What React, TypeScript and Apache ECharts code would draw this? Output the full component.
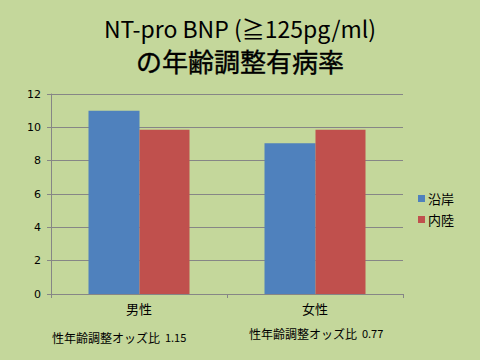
import React, { useEffect, useRef } from "react";
import * as echarts from "echarts";

const categories = ["男性", "女性"];
const coastal = [11.0, 9.05];
const inland = [9.85, 9.85];
const seriesNames = ["沿岸", "内陸"];
const titleLines = ["NT-pro BNP (≧125pg/ml)", "の年齢調整有病率"];
const oddsLabels = ["性年齢調整オッズ比", "性年齢調整オッズ比"];
const oddsValues = ["1.15", "0.77"];

export default function App() {
  const ref = useRef<HTMLDivElement>(null);
  useEffect(() => {
    const chart = echarts.init(ref.current!, null, { renderer: "svg" });
    const font = "'Noto Sans CJK JP', sans-serif";
    chart.setOption({
      animation: false,
      backgroundColor: "#C4D79B",
      legend: {
        orient: "vertical",
        left: 413,
        top: 187,
        itemWidth: 7,
        itemHeight: 7,
        itemGap: 8,
        icon: "rect",
        textStyle: { fontFamily: font, fontSize: 13, color: "#000", padding: [0, 0, 0, -2] },
        data: seriesNames,
      },
      grid: { left: 51, right: 77, top: 94, bottom: 66, containLabel: false },
      xAxis: {
        type: "category",
        data: categories,
        axisLine: { lineStyle: { color: "#868686" } },
        axisTick: { show: true, length: 4, lineStyle: { color: "#868686" } },
        axisLabel: { fontFamily: font, fontSize: 13, color: "#000", margin: 8 },
      },
      yAxis: {
        type: "value",
        min: 0,
        max: 12,
        interval: 2,
        axisLine: { show: true, lineStyle: { color: "#868686" } },
        axisTick: { show: true, length: 4, lineStyle: { color: "#868686" } },
        axisLabel: { fontFamily: "'DejaVu Sans', sans-serif", fontSize: 11, color: "#000", margin: 10 },
        splitLine: { lineStyle: { color: "#868686", width: 1 } },
      },
      series: [
        {
          name: seriesNames[0],
          type: "bar",
          data: coastal,
          barWidth: 51,
          barGap: "0%",
          itemStyle: { color: "#4F81BD" },
        },
        {
          name: seriesNames[1],
          type: "bar",
          data: inland,
          barWidth: 50,
          barGap: "0%",
          itemStyle: { color: "#C0504D" },
        },
      ],
      graphic: [
        {
          type: "text",
          x: 240,
          y: 28,
          style: {
            text: titleLines[0],
            fontFamily: font,
            fontSize: 23,
            fill: "#000",
            align: "center",
            verticalAlign: "middle",
          },
        },
        {
          type: "text",
          x: 240,
          y: 60,
          style: {
            text: titleLines[1],
            fontFamily: font,
            fontSize: 26,
            fontWeight: "normal",
            fill: "#000",
            stroke: "#000",
            lineWidth: 0.4,
            align: "center",
            verticalAlign: "middle",
          },
        },
        {
          type: "text",
          x: 52,
          y: 337,
          style: {
            rich: {
              a: { fontFamily: font, fontSize: 12, fill: "#000" },
              b: { fontFamily: font, fontSize: 11, fill: "#000" },
            },
            text: `{a|${oddsLabels[0]}}{b|  ${oddsValues[0]}}`,
            verticalAlign: "middle",
          },
        },
        {
          type: "text",
          x: 249,
          y: 333,
          style: {
            rich: {
              a: { fontFamily: font, fontSize: 12, fill: "#000" },
              b: { fontFamily: font, fontSize: 11, fill: "#000" },
            },
            text: `{a|${oddsLabels[1]}}{b|  ${oddsValues[1]}}`,
            verticalAlign: "middle",
          },
        },
      ],
    });
    return () => chart.dispose();
  }, []);
  return <div ref={ref} style={{ width: 480, height: 360, position: "absolute", left: 0, top: 0 }} />;
}
